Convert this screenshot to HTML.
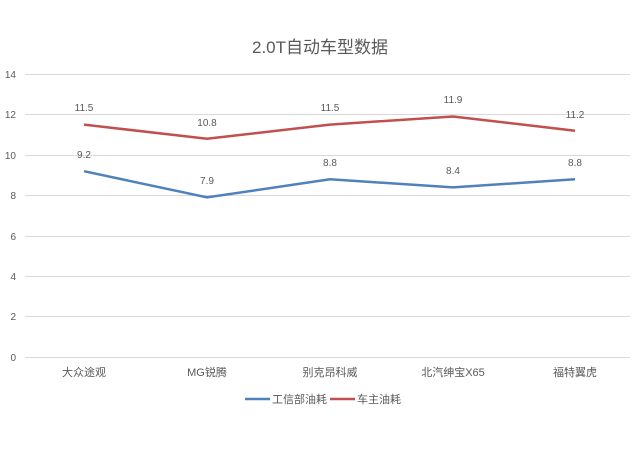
<!DOCTYPE html><html><head><meta charset="utf-8"><style>body{margin:0;background:#fff}svg{display:block}text{font-family:"Liberation Sans","Noto Sans CJK SC",sans-serif;fill:#595959}</style></head><body>
<svg width="640" height="450" xmlns="http://www.w3.org/2000/svg">
<text x="320" y="53" font-size="17" text-anchor="middle">2.0T自动车型数据</text>
<g stroke="#d9d9d9" stroke-width="1">
<line x1="25" x2="630" y1="74.5" y2="74.5"/><line x1="25" x2="630" y1="114.5" y2="114.5"/><line x1="25" x2="630" y1="155.5" y2="155.5"/><line x1="25" x2="630" y1="195.5" y2="195.5"/><line x1="25" x2="630" y1="236.5" y2="236.5"/><line x1="25" x2="630" y1="276.5" y2="276.5"/><line x1="25" x2="630" y1="316.5" y2="316.5"/><line x1="25" x2="630" y1="357.5" y2="357.5"/>
</g>
<g font-size="10" text-anchor="end">
<text x="16" y="78">14</text><text x="16" y="118">12</text><text x="16" y="159">10</text><text x="16" y="199">8</text><text x="16" y="240">6</text><text x="16" y="280">4</text><text x="16" y="320">2</text><text x="16" y="361">0</text>
</g>
<g font-size="11" text-anchor="middle">
<text x="84" y="376">大众途观</text><text x="207" y="376">MG锐腾</text><text x="330" y="376">别克昂科威</text><text x="453" y="376">北汽绅宝X65</text><text x="575" y="376">福特翼虎</text>
</g>
<polyline fill="none" stroke="#c0504d" stroke-width="2.5" points="84,124.6 207,138.8 330,124.6 453,116.5 575,130.7"/>
<polyline fill="none" stroke="#4f81bd" stroke-width="2.5" points="84,171.2 207,197.4 330,179.3 453,187.4 575,179.3"/>
<g font-size="10" text-anchor="middle">
<text x="84" y="111">11.5</text><text x="207" y="126">10.8</text><text x="330" y="111">11.5</text><text x="453" y="103">11.9</text><text x="575" y="118">11.2</text>
<text x="84" y="158">9.2</text><text x="207" y="184">7.9</text><text x="330" y="166">8.8</text><text x="453" y="174">8.4</text><text x="575" y="166">8.8</text>
</g>
<line x1="245" x2="270" y1="399" y2="399" stroke="#4f81bd" stroke-width="2.5"/>
<text x="272" y="403" font-size="11">工信部油耗</text>
<line x1="330" x2="355" y1="399" y2="399" stroke="#c0504d" stroke-width="2.5"/>
<text x="357" y="403" font-size="11">车主油耗</text>
</svg></body></html>
